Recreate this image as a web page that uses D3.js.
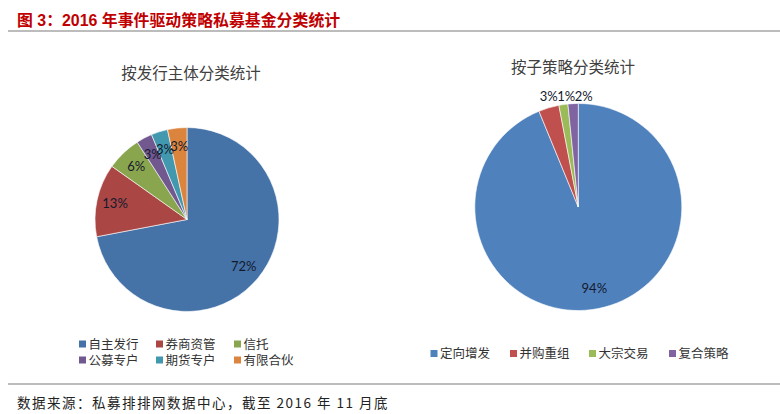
<!DOCTYPE html>
<html>
<head>
<meta charset="utf-8">
<script src="https://cdn.jsdelivr.net/npm/d3@7"></script>
<style>
  body { margin: 0; background: #fff; }
  svg { display: block; }
</style>
</head>
<body>
<svg width="780" height="414"></svg>
<script>
// data
const issuerCategories = ['自主发行', '券商资管', '信托', '公募专户', '期货专户', '有限合伙']
const issuerValues = [72.0, 12.8, 6.1, 2.8, 2.9, 3.4]
const strategyCategories = ['定向增发', '并购重组', '大宗交易', '复合策略']
const strategyValues = [93.8, 3.2, 1.4, 1.6]

const svg = d3.select('svg')
const width = +svg.attr('width')
const height = +svg.attr('height')
const fontCJK = '"Noto Sans CJK SC", "Liberation Sans", sans-serif'
const pct = d3.format('.0%')

// header + footer
svg.append('text')
  .attr('x', 17).attr('y', 26)
  .attr('fill', '#c00000')
  .attr('font-family', '"Liberation Sans", "Noto Sans CJK SC", sans-serif')
  .attr('font-weight', 'bold')
  .attr('font-size', 15.9)
  .text('图 3：2016 年事件驱动策略私募基金分类统计')

svg.append('line')
  .attr('x1', 8).attr('x2', width).attr('y1', 31).attr('y2', 31)
  .attr('stroke', '#a6a6a6').attr('stroke-width', 1.5)

svg.append('line')
  .attr('x1', 8).attr('x2', width).attr('y1', 384).attr('y2', 384)
  .attr('stroke', '#a6a6a6').attr('stroke-width', 1.5)

svg.append('text')
  .attr('x', 17).attr('y', 407.5)
  .attr('fill', '#222')
  .attr('font-family', fontCJK)
  .attr('font-size', 13.5)
  .attr('letter-spacing', 1.5)
  .text('数据来源：私募排排网数据中心，截至 2016 年 11 月底')

const pie = d3.pie().sort(null).value(d => d.value)

const renderPie = (cfg) => {
  const data = cfg.categories.map((c, i) => ({ name: c, value: cfg.values[i] }))
  const total = d3.sum(data, d => d.value)
  const color = d3.scaleOrdinal().domain(cfg.categories).range(cfg.colors)

  svg.append('text')
    .attr('x', cfg.titleX).attr('y', cfg.titleY)
    .attr('text-anchor', 'middle')
    .attr('fill', '#404040')
    .attr('font-family', fontCJK)
    .attr('font-size', 15.5)
    .text(cfg.title)

  const g = svg.append('g').attr('transform', `translate(${cfg.cx},${cfg.cy})`)
  const path = d3.arc().innerRadius(0).outerRadius(cfg.r)
  const label = d3.arc().innerRadius(cfg.r * 0.8).outerRadius(cfg.r * 0.8)
  const arcs = pie(data)

  g.selectAll('path')
    .data(arcs)
    .enter()
    .append('path')
    .attr('d', path)
    .attr('fill', d => color(d.data.name))
    .attr('stroke', '#fff')
    .attr('stroke-width', 0.6)

  let lastX = -Infinity
  arcs.forEach(d => {
    const share = d.data.value / total
    let x, y
    if (cfg.outside && share < 0.05) {
      const mid = (d.startAngle + d.endAngle) / 2
      x = Math.max(cfg.r * Math.sin(mid), lastX + 17.5)
      lastX = x
      y = -cfg.r - 7
    } else {
      [x, y] = label.centroid(d)
    }
    g.append('text')
      .attr('x', x).attr('y', y)
      .attr('dy', '0.35em')
      .attr('text-anchor', 'middle')
      .attr('fill', '#141a2e')
      .attr('font-family', 'Lato, "Open Sans", sans-serif')
      .attr('font-size', 13)
      .text(pct(share))
  })

  // legend
  cfg.categories.forEach((c, i) => {
    const col = i % cfg.legendCols
    const row = Math.floor(i / cfg.legendCols)
    const lx = cfg.legendX[col]
    const ly = cfg.legendY + row * 16
    svg.append('rect')
      .attr('x', lx).attr('y', ly - 3.5)
      .attr('width', 7).attr('height', 7)
      .attr('fill', color(c))
    svg.append('text')
      .attr('x', lx + 9.5).attr('y', ly)
      .attr('dy', '0.36em')
      .attr('fill', '#333')
      .attr('font-family', fontCJK)
      .attr('font-size', 12.5)
      .text(c)
  })
}

renderPie({
  title: '按发行主体分类统计', titleX: 191, titleY: 79,
  categories: issuerCategories, values: issuerValues,
  colors: ['#4572a7', '#aa4643', '#89a54e', '#71588f', '#4198af', '#db843d'],
  cx: 187, cy: 219.5, r: 92, outside: false,
  legendCols: 3, legendX: [79, 156, 234], legendY: 344
})

renderPie({
  title: '按子策略分类统计', titleX: 573, titleY: 73,
  categories: strategyCategories, values: strategyValues,
  colors: ['#4f81bd', '#c0504d', '#9bbb59', '#8064a2'],
  cx: 578.3, cy: 207, r: 103.5, outside: true,
  legendCols: 4, legendX: [430.5, 510, 589, 669], legendY: 353.5
})
</script>
</body>
</html>
